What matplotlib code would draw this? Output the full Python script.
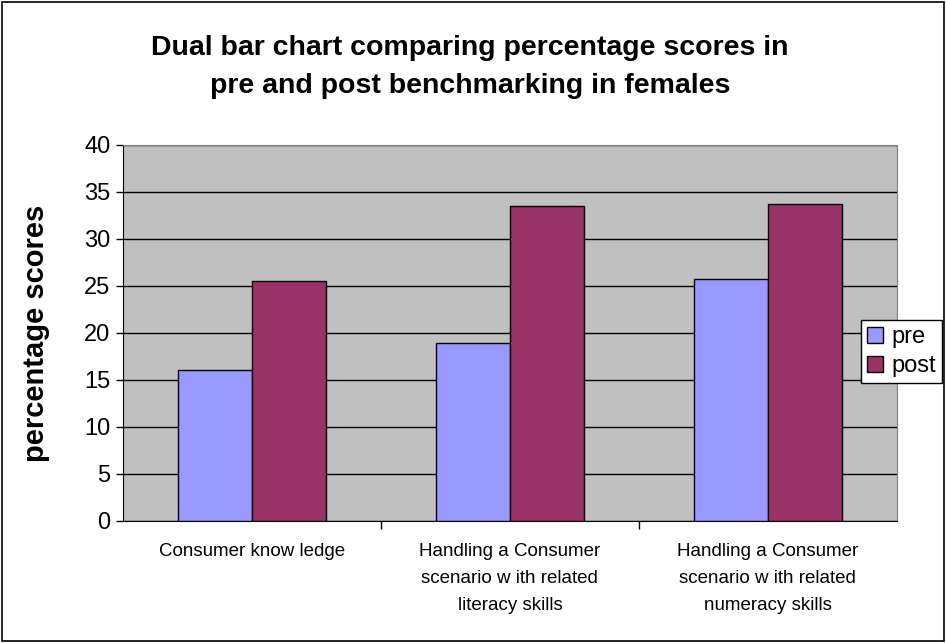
import matplotlib
matplotlib.use("Agg")
import matplotlib.pyplot as plt
import numpy as np
from matplotlib.patches import Rectangle

categories = ["Consumer know ledge",
              "Handling a Consumer\nscenario w ith related\nliteracy skills",
              "Handling a Consumer\nscenario w ith related\nnumeracy skills"]
pre = [16, 18.9, 25.7]
post = [25.5, 33.5, 33.7]
yticks = [0, 5, 10, 15, 20, 25, 30, 35, 40]

plt.rcParams['font.family'] = ['Liberation Sans', 'DejaVu Sans']

fig = plt.figure(figsize=(9.46, 6.43), dpi=100)
ax = fig.add_axes([0.130, 0.19, 0.818, 0.5845])

x = np.arange(len(categories))
w = 1 / 3.5
ax.bar(x - w / 2, pre, w, color='#9999FF', edgecolor='black', linewidth=1, label='pre', zorder=3)
ax.bar(x + w / 2, post, w, color='#993366', edgecolor='black', linewidth=1, label='post', zorder=3)

ax.set_facecolor('#C0C0C0')
ax.set_xlim(-0.5, 2.5)
ax.set_ylim(0, 40)
ax.set_yticks(yticks)
ax.set_yticklabels([str(t) for t in yticks], fontsize=17)
ax.yaxis.grid(True, color='black', linewidth=1, zorder=0)
ax.set_axisbelow(True)
ax.tick_params(axis='y', length=5, width=1, pad=4)

# category labels centered, ticks on boundaries
ax.set_xticks([0.5, 1.5])
ax.set_xticklabels([])
ax.tick_params(axis='x', length=6, width=1)
for i, c in enumerate(categories):
    ax.text(i, -2.4, c, ha='center', va='top', fontsize=13.5, linespacing=1.75)

for s in ['top', 'right']:
    ax.spines[s].set_color('#808080')
for s in ['left', 'bottom']:
    ax.spines[s].set_color('black')

ax.set_ylabel('percentage scores', fontsize=21, fontweight='bold')
ax.yaxis.set_label_coords(-0.094, 0.5)

fig.text(0.497, 0.896, 'Dual bar chart comparing percentage scores in\npre and post benchmarking in females',
         ha='center', va='center', fontsize=20.5, fontweight='bold', linespacing=1.6)

leg = fig.legend(loc='upper left', bbox_to_anchor=(0.910, 0.502), fontsize=17,
                 frameon=True, fancybox=False, edgecolor='black', framealpha=1,
                 handlelength=0.7, handleheight=0.7, handletextpad=0.35,
                 borderpad=0.25, labelspacing=0.3, borderaxespad=0)
leg.get_frame().set_linewidth(1)

fig.patches.append(Rectangle((0.002, 0.003), 0.996, 0.994, transform=fig.transFigure,
                             fill=False, edgecolor='black', linewidth=1.2))

fig.savefig('out.png', dpi=100)
